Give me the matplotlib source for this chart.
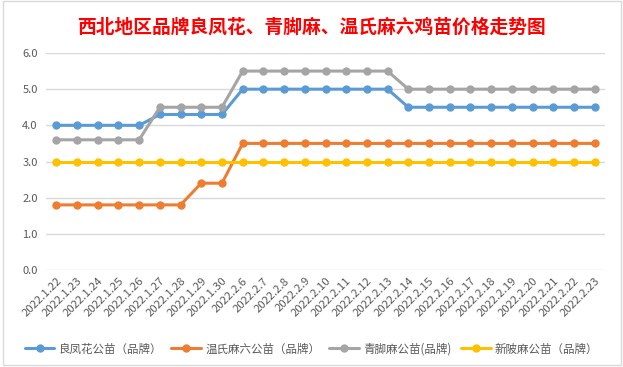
import matplotlib
matplotlib.use("Agg")
import matplotlib.pyplot as plt
from matplotlib.patches import Rectangle

plt.rcParams['font.family'] = ['Noto Sans CJK SC', 'DejaVu Sans']

dates = ["2022.1.22", "2022.1.23", "2022.1.24", "2022.1.25", "2022.1.26", "2022.1.27",
         "2022.1.28", "2022.1.29", "2022.1.30", "2022.2.6", "2022.2.7", "2022.2.8",
         "2022.2.9", "2022.2.10", "2022.2.11", "2022.2.12", "2022.2.13", "2022.2.14",
         "2022.2.15", "2022.2.16", "2022.2.17", "2022.2.18", "2022.2.19", "2022.2.20",
         "2022.2.21", "2022.2.22", "2022.2.23"]

liangfenghua = [4.0, 4.0, 4.0, 4.0, 4.0, 4.3, 4.3, 4.3, 4.3,
                5.0, 5.0, 5.0, 5.0, 5.0, 5.0, 5.0, 5.0,
                4.5, 4.5, 4.5, 4.5, 4.5, 4.5, 4.5, 4.5, 4.5, 4.5]
wenshi = [1.8, 1.8, 1.8, 1.8, 1.8, 1.8, 1.8, 2.4, 2.4,
          3.5, 3.5, 3.5, 3.5, 3.5, 3.5, 3.5, 3.5,
          3.5, 3.5, 3.5, 3.5, 3.5, 3.5, 3.5, 3.5, 3.5, 3.5]
qingjiaoma = [3.6, 3.6, 3.6, 3.6, 3.6, 4.5, 4.5, 4.5, 4.5,
              5.5, 5.5, 5.5, 5.5, 5.5, 5.5, 5.5, 5.5,
              5.0, 5.0, 5.0, 5.0, 5.0, 5.0, 5.0, 5.0, 5.0, 5.0]
xinpima = [3.0] * 27

series_names = ["良凤花公苗（品牌）", "温氏麻六公苗（品牌）", "青脚麻公苗(品牌)", "新陂麻公苗（品牌）"]
series_vals = [liangfenghua, wenshi, qingjiaoma, xinpima]
colors = ["#5B9BD5", "#ED7D31", "#A5A5A5", "#FFC000"]

fig = plt.figure(figsize=(6.23, 3.67), dpi=100)
fig.patch.set_facecolor("white")
ax = fig.add_axes([46/623, 1-270/367, (605-46)/623, (270-53)/367])

x = list(range(len(dates)))
for name, vals, c in zip(series_names, series_vals, colors):
    ax.plot(x, vals, color=c, lw=2.2, marker='o', markersize=5, label=name,
            solid_capstyle='round')

ax.set_xlim(-0.5, len(dates) - 0.5)
ax.set_ylim(0, 6)
ax.set_yticks([0, 1, 2, 3, 4, 5, 6])
ax.set_yticklabels([f"{v:.1f}" for v in [0, 1, 2, 3, 4, 5, 6]], fontsize=8, color="#595959")
ax.set_xticks(x)
ax.set_xticklabels(dates, rotation=45, ha='right', va='top', rotation_mode='anchor',
                   fontsize=8.2, color="#595959")
ax.tick_params(axis='both', length=0, pad=6)
ax.tick_params(axis='x', pad=4)
for s in ax.spines.values():
    s.set_visible(False)
ax.grid(axis='y', color="#D9D9D9", lw=1)
ax.set_axisbelow(True)

fig.text(0.5, 1-27/367, "西北地区品牌良凤花、青脚麻、温氏麻六鸡苗价格走势图",
         ha='center', va='center', fontsize=13.5, fontweight='bold', color="#FF0000")

fig.legend(loc='center', bbox_to_anchor=(0.5, 1-349/367), ncol=4, frameon=False,
           fontsize=8.3, handlelength=2.6, handletextpad=0.35, columnspacing=0.8,
           labelcolor="#595959")

fig.patches.append(Rectangle((3/623, 1-365/367), 618/623, 364/367, transform=fig.transFigure,
                             fill=False, edgecolor="#D9D9D9", lw=1))

fig.savefig("out.png", dpi=100)
